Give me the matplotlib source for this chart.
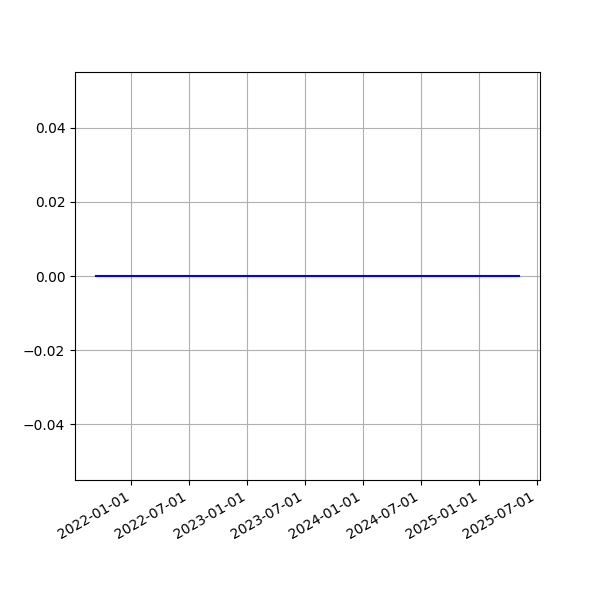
import pandas as pd
import matplotlib
matplotlib.use('Agg')
import matplotlib.pyplot as plt
import matplotlib.dates as mdates

# Series endpoints (flat line at zero)
dates = pd.to_datetime(['2021-09-12', '2025-05-05'])
values = [0.0, 0.0]

fig, ax = plt.subplots(figsize=(6, 6), dpi=100)
ax.plot(dates, values, color='blue')

ax.xaxis.set_major_locator(mdates.MonthLocator(bymonth=(1, 7)))
ax.xaxis.set_major_formatter(mdates.DateFormatter('%Y-%m-%d'))
ax.grid(True)
fig.autofmt_xdate()

plt.savefig('out.png')
plt.close()
